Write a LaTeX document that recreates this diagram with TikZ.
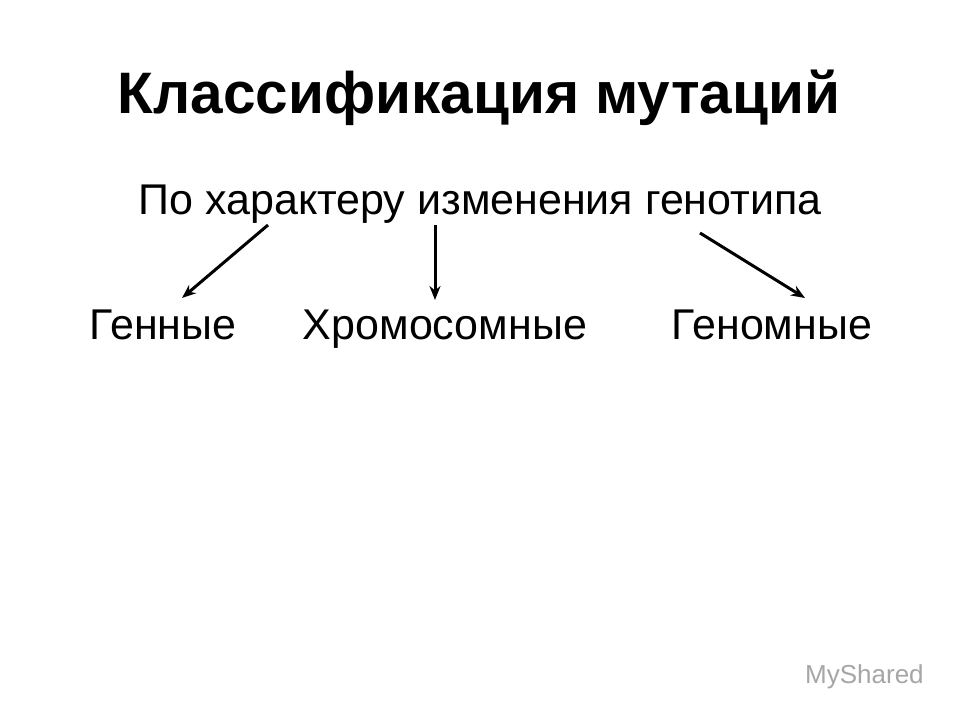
\documentclass[tikz,border=0pt]{standalone}
\usepackage{fontspec}
\setmainfont{Liberation Sans}
\usetikzlibrary{arrows.meta}
\begin{document}
\begin{tikzpicture}[x=1pt,y=-1pt,
  lbl/.style={font=\fontsize{43}{46}\selectfont, inner sep=0pt, anchor=base},
  arr/.style={line width=3pt,-{Stealth[length=14pt,width=11pt]}}]
\useasboundingbox (0,0) rectangle (960,720);
\fill[white] (0,0) rectangle (960,720);
\node[font=\fontsize{58.5}{62}\selectfont\bfseries, inner sep=0pt, anchor=base] (title) at (479,113) {Классификация мутаций};
\node[lbl] (sub) at (480,214) {По характеру изменения генотипа};
\node[lbl] (g1) at (163,339) {Генные};
\node[lbl] (g2) at (445,339) {Хромосомные};
\node[lbl] (g3) at (772,339) {Геномные};
\coordinate (s1) at (268,225);
\coordinate (s2) at (435,225);
\coordinate (s3) at (700,233);
\coordinate (e1) at (182,298);
\coordinate (e2) at (435,300);
\coordinate (e3) at (805,298);
\draw[arr] (s1) -- (e1);
\draw[arr] (s2) -- (e2);
\draw[arr] (s3) -- (e3);
\node[font=\fontsize{26}{28}\selectfont, text=gray!70, inner sep=0pt, anchor=base west] (wm) at (805,683) {MyShared};
\end{tikzpicture}
\end{document}
